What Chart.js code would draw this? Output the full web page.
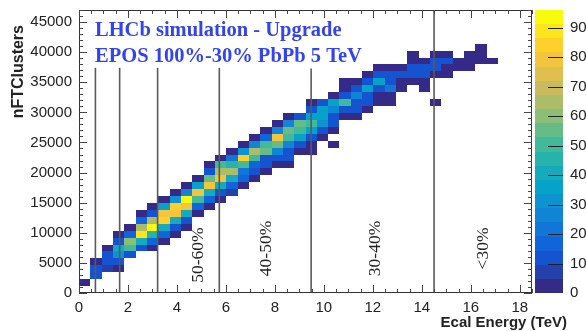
<!DOCTYPE html>
<html>
<head>
<meta charset="utf-8">
<script src="https://cdn.jsdelivr.net/npm/chart.js@4.4.0/dist/chart.umd.min.js"></script>
<style>
  html, body { margin: 0; padding: 0; background: #fff; }
</style>
</head>
<body>
<canvas id="chart" width="586" height="331"></canvas>
<script>
// histogram binning (TeV per x bin, clusters per y bin)
var energyBinWidth = 0.4625;
var clusterBinWidth = 1150;

// first filled y bin of every x bin, then the counts going up from it
var columnStartRow = [1, 2, 3, 3, 5, 6, 6, 7, 8, 9, 11, 12, 13, 14, 15, 16, 17, 18, 18, 20,
    20, 22, 21, 25, 25, 26, 27, 27, 29, 30, 29, 27, 31, 32, 32, 33, 33];
var columnCounts = [
    [3],
    [10, 10, 3],
    [6, 14, 12, 3],
    [3, 12, 30, 42, 14, 3],
    [12, 48, 62, 15, 3],
    [14, 40, 88, 65, 15, 3],
    [4, 15, 45, 95, 65, 12, 3],
    [3, 15, 40, 82, 80, 35, 3],
    [3, 14, 40, 80, 85, 30, 3],
    [3, 14, 40, 78, 96, 28, 4],
    [4, 15, 50, 80, 35, 3],
    [3, 15, 40, 78, 55, 14, 3],
    [3, 14, 42, 78, 65, 50, 3],
    [5, 15, 40, 65, 45, 20, 3],
    [4, 15, 20, 50, 82, 30, 3],
    [3, 14, 15, 50, 65, 25, 3],
    [3, 12, 14, 55, 52, 15, 3],
    [3, 12, 25, 55, 78, 25, 3],
    [3, 12, 14, 28, 50, 55, 25, 3],
    [3, 12, 35, 48, 55, 10],
    [3, 3, 12, 38, 52, 35, 14, 3],
    [3, 12, 30, 38, 35, 14],
    [3, 0, 3, 12, 14, 28, 38, 3],
    [3, 14, 50, 14, 3, 3],
    [3, 12, 14, 28, 14, 3],
    [3, 12, 14, 35, 14, 3],
    [3, 3, 14, 35, 14, 3],
    [3, 4, 20, 14, 12, 3],
    [3, 4, 12, 3],
    [3, 10, 14, 3, 3],
    [3, 3, 12, 12, 4],
    [3, 0, 0, 0, 3, 14, 14, 3],
    [3, 3, 12, 3],
    [3, 3],
    [3, 3, 3],
    [3, 3, 3],
    [3]
];

// axis tick labels
var energyTicks = [0, 2, 4, 6, 8, 10, 12, 14, 16, 18];
var clusterTicks = [0, 5000, 10000, 15000, 20000, 25000, 30000, 35000, 40000, 45000];
var zTicks = [0, 10, 20, 30, 40, 50, 60, 70, 80, 90];

// centrality cuts
var cutEnergy = [0.67, 1.66, 3.21, 5.73, 9.48, 14.5];
var cutTop = [37400, 37400, 37400, 37400, 37300, 47000];
var cutLabels = ['50-60%', '40-50%', '30-40%', '<30%'];
var cutLabelEnergy = [4.86, 7.66, 12.1, 16.5];
var cutLabelClusters = [6300, 7400, 7400, 7400];

// z axis (colour) range and number of contours
var zMax = 96;
var zLevels = 20;

// ROOT kBird palette
var birdStops = [0.0, 0.125, 0.25, 0.375, 0.5, 0.625, 0.75, 0.875, 1.0];
var birdRed = [0.2082, 0.0592, 0.0780, 0.0232, 0.1802, 0.5301, 0.8186, 0.9956, 0.9764];
var birdGreen = [0.1664, 0.3599, 0.5041, 0.6419, 0.7178, 0.7492, 0.7328, 0.7862, 0.9832];
var birdBlue = [0.5293, 0.8684, 0.8385, 0.7914, 0.6425, 0.4662, 0.3499, 0.1968, 0.0539];

function bird(t) {
    var i = 0;
    while (i < birdStops.length - 2 && t > birdStops[i + 1]) i++;
    var f = (t - birdStops[i]) / (birdStops[i + 1] - birdStops[i]);
    var r = birdRed[i] + f * (birdRed[i + 1] - birdRed[i]);
    var g = birdGreen[i] + f * (birdGreen[i + 1] - birdGreen[i]);
    var b = birdBlue[i] + f * (birdBlue[i + 1] - birdBlue[i]);
    return 'rgb(' + Math.round(r * 255) + ',' + Math.round(g * 255) + ',' + Math.round(b * 255) + ')';
}

function levelColor(level) {
    return bird(level / (zLevels - 1));
}

function zColor(v) {
    var level = Math.min(zLevels - 1, Math.floor(v / (zMax / zLevels)));
    return levelColor(level);
}

// build the cells
var cells = [];
for (var i = 0; i < columnCounts.length; i++) {
    for (var k = 0; k < columnCounts[i].length; k++) {
        var v = columnCounts[i][k];
        if (v > 0) {
            cells.push({
                x: (i + 0.5) * energyBinWidth,
                y: (columnStartRow[i] + k + 0.5) * clusterBinWidth,
                v: v
            });
        }
    }
}

var sansFont = '"Liberation Sans", Arial, sans-serif';
var serifFont = '"Liberation Serif", "DejaVu Serif", serif';

function fixedTicks(list) {
    return function (scale) {
        scale.ticks = list.map(function (t) { return { value: t }; });
    };
}

// invisible tick marks, only used to push the labels away from the axis
function spacer(len) {
    return { display: true, drawOnChartArea: false, drawTicks: true, tickLength: len, color: 'rgba(0,0,0,0)' };
}

var heatPlugin = {
    id: 'heat',
    beforeDatasetsDraw: function (chart) {
        var ctx = chart.ctx, xs = chart.scales.x, ys = chart.scales.y;
        ctx.save();
        chart.data.datasets[0].data.forEach(function (p) {
            var x0 = Math.round(xs.getPixelForValue(p.x - energyBinWidth / 2));
            var x1 = Math.round(xs.getPixelForValue(p.x + energyBinWidth / 2));
            var y0 = Math.round(ys.getPixelForValue(p.y - clusterBinWidth / 2));
            var y1 = Math.round(ys.getPixelForValue(p.y + clusterBinWidth / 2));
            ctx.fillStyle = zColor(p.v);
            ctx.fillRect(x0, y1, x1 - x0, y0 - y1);
        });
        ctx.restore();
    },
    afterDraw: function (chart) {
        var ctx = chart.ctx, xs = chart.scales.x, ys = chart.scales.y, zs = chart.scales.z;
        var a = chart.chartArea;
        ctx.save();

        // cut lines
        ctx.strokeStyle = '#5a5a5a';
        ctx.lineWidth = 1.6;
        for (var i = 0; i < cutEnergy.length; i++) {
            var px = xs.getPixelForValue(cutEnergy[i]);
            ctx.beginPath();
            ctx.moveTo(px, ys.getPixelForValue(0));
            ctx.lineTo(px, ys.getPixelForValue(cutTop[i]));
            ctx.stroke();
        }

        // cut labels
        ctx.fillStyle = '#222';
        ctx.font = '17.5px ' + serifFont;
        ctx.textAlign = 'center';
        ctx.textBaseline = 'middle';
        for (var j = 0; j < cutLabels.length; j++) {
            ctx.save();
            ctx.translate(xs.getPixelForValue(cutLabelEnergy[j]), ys.getPixelForValue(cutLabelClusters[j]));
            ctx.rotate(-Math.PI / 2);
            ctx.fillText(cutLabels[j], 0, 0);
            ctx.restore();
        }

        // frame
        ctx.strokeStyle = '#333';
        ctx.lineWidth = 1;
        ctx.strokeRect(a.left + 0.5, a.top + 0.5, a.right - a.left - 1, a.bottom - a.top - 1);

        // inner ticks
        ctx.strokeStyle = '#444';
        ctx.beginPath();
        for (var e = 0; e <= xs.max + 1e-6; e += 0.5) {
            var tx = Math.round(xs.getPixelForValue(e)) + 0.5;
            var len = (Math.abs(e / 2 - Math.round(e / 2)) < 1e-6) ? 8 : 4;
            ctx.moveTo(tx, a.bottom); ctx.lineTo(tx, a.bottom - len);
            ctx.moveTo(tx, a.top); ctx.lineTo(tx, a.top + len);
        }
        for (var c = 0; c <= ys.max; c += 1000) {
            var ty = Math.round(ys.getPixelForValue(c)) + 0.5;
            var ylen = (c % 5000 === 0) ? 8 : 4;
            ctx.moveTo(a.left, ty); ctx.lineTo(a.left + ylen, ty);
            ctx.moveTo(a.right, ty); ctx.lineTo(a.right - ylen, ty);
        }
        ctx.stroke();

        // colour bar
        var barLeft = a.right + 3, barRight = a.right + 31;
        for (var l = 0; l < zLevels; l++) {
            var yb = Math.round(zs.getPixelForValue(l * zMax / zLevels));
            var yt = Math.round(zs.getPixelForValue((l + 1) * zMax / zLevels));
            ctx.fillStyle = levelColor(l);
            ctx.fillRect(barLeft, yt, barRight - barLeft, yb - yt);
        }
        ctx.strokeStyle = '#222';
        ctx.beginPath();
        zs.ticks.forEach(function (t) {
            if (t.value === 0) return;
            var zy = Math.round(zs.getPixelForValue(t.value)) + 0.5;
            ctx.moveTo(barRight - 15, zy); ctx.lineTo(barRight, zy);
        });
        ctx.stroke();

        // titles
        ctx.fillStyle = '#3344ee';
        ctx.font = 'bold 20.5px ' + serifFont;
        ctx.textAlign = 'left';
        ctx.textBaseline = 'alphabetic';
        ctx.fillText('LHCb simulation - Upgrade', 95, 36);
        ctx.fillText('EPOS 100%-30% PbPb 5 TeV', 95, 62);

        ctx.fillStyle = '#222';
        ctx.font = 'bold 15px ' + sansFont;
        ctx.textAlign = 'right';
        ctx.textBaseline = 'middle';
        ctx.fillText('Ecal Energy (TeV)', 567, 323);

        ctx.save();
        ctx.translate(18.5, 25);
        ctx.rotate(-Math.PI / 2);
        ctx.font = 'bold 16px ' + sansFont;
        ctx.textAlign = 'right';
        ctx.fillText('nFTClusters', 0, 0);
        ctx.restore();

        ctx.restore();
    }
};

var tickFont = { family: sansFont, size: 15 };

var chart = new Chart(document.getElementById('chart').getContext('2d'), {
    type: 'scatter',
    data: {
        datasets: [{
            data: cells,
            pointRadius: 0,
            pointHoverRadius: 0
        }]
    },
    options: {
        responsive: false,
        animation: false,
        events: [],
        layout: { autoPadding: false, padding: { top: 10, left: 0, right: 0, bottom: 0 } },
        plugins: { legend: { display: false }, tooltip: { enabled: false } },
        scales: {
            x: {
                type: 'linear',
                min: 0,
                max: 18.5,
                grid: spacer(6),
                border: { display: false },
                ticks: { font: tickFont, color: '#222', padding: 0, maxRotation: 0, autoSkip: false },
                afterBuildTicks: fixedTicks(energyTicks),
                afterFit: function (scale) { scale.height = 38; }
            },
            y: {
                type: 'linear',
                min: 0,
                max: 47000,
                grid: spacer(7),
                border: { display: false },
                ticks: {
                    font: tickFont, color: '#222', padding: 0, autoSkip: false,
                    callback: function (v) { return String(v); }
                },
                afterBuildTicks: fixedTicks(clusterTicks),
                afterFit: function (scale) { scale.width = 79; }
            },
            z: {
                type: 'linear',
                position: 'right',
                min: 0,
                max: zMax,
                grid: spacer(38),
                border: { display: false },
                ticks: { font: tickFont, color: '#222', padding: 0, autoSkip: false },
                afterBuildTicks: fixedTicks(zTicks),
                afterFit: function (scale) { scale.width = 54; }
            }
        }
    },
    plugins: [heatPlugin]
});
</script>
</body>
</html>
